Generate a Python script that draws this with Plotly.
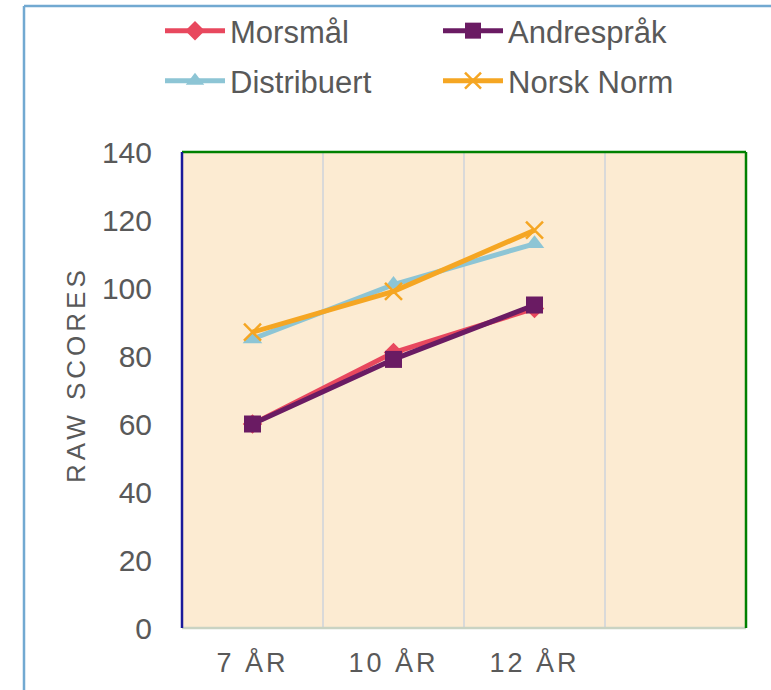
import plotly.graph_objects as go

categories = ["7 ÅR", "10 ÅR", "12 ÅR"]
all_categories = ["7 ÅR", "10 ÅR", "12 ÅR", " "]
morsmal = [60, 81, 94]
andresprak = [60, 79, 95]
distribuert = [85, 101, 113]
norsk_norm = [87, 99, 117]
y_ticks = [0, 20, 40, 60, 80, 100, 120, 140]

W, H = 771, 690
L, R, T, B = 182, 25, 152, 62
pw, ph = W - L - R, H - T - B

def px_x(p):
    return (p - L) / pw

def px_y(p):
    return (H - B - p) / ph

font_family = "Liberation Sans, Arial, sans-serif"
txt = "#595959"

fig = go.Figure()
series = [
    ("Morsmål", morsmal, "#E8485E", "diamond", 15, "legend"),
    ("Andrespråk", andresprak, "#6A1B63", "square", 17, "legend"),
    ("Distribuert", distribuert, "#8DC5D5", "triangle-up", 17, "legend2"),
    ("Norsk Norm", norsk_norm, "#F5A623", "x-thin", 17, "legend2"),
]
for name, vals, col, sym, size, leg in series:
    fig.add_trace(go.Scatter(
        x=categories, y=vals, name=name, mode="lines+markers",
        line=dict(color=col, width=5),
        marker=dict(symbol=sym, size=size, color=col,
                    line=dict(color=col, width=2.5 if sym == "x-thin" else 0)),
        legend=leg,
    ))

shapes = []
for gx in [0.5, 1.5, 2.5]:
    shapes.append(dict(type="line", xref="x", yref="paper", x0=gx, x1=gx, y0=0, y1=1,
                       line=dict(color="#D9D9D9", width=2), layer="below"))
shapes += [
    dict(type="line", xref="paper", yref="paper", x0=0, x1=1, y0=0, y1=0,
         line=dict(color="#C9D3C3", width=2.5)),
    dict(type="line", xref="paper", yref="paper", x0=0, x1=1, y0=1, y1=1,
         line=dict(color="#008000", width=2.5)),
    dict(type="line", xref="paper", yref="paper", x0=1, x1=1, y0=0, y1=1,
         line=dict(color="#008000", width=2.5)),
    dict(type="line", xref="paper", yref="paper", x0=0, x1=0, y0=0, y1=1,
         line=dict(color="#1A1A9A", width=2.5)),
    dict(type="line", xref="paper", yref="paper", x0=px_x(24), x1=px_x(24),
         y0=px_y(6), y1=px_y(700), line=dict(color="#72A9D1", width=2.5)),
    dict(type="line", xref="paper", yref="paper", x0=px_x(24), x1=px_x(780),
         y0=px_y(6), y1=px_y(6), line=dict(color="#72A9D1", width=2.5)),
]

leg_common = dict(orientation="h", xanchor="left", yanchor="middle",
                  font=dict(family=font_family, size=31, color=txt),
                  bgcolor="rgba(0,0,0,0)", entrywidthmode="pixels", entrywidth=203,
                  itemwidth=60)

tick_text = ['<span style="letter-spacing:3px">%s</span>' % c for c in categories]

fig.update_layout(
    width=W, height=H,
    margin=dict(l=L, r=R, t=T, b=B, autoexpand=False),
    paper_bgcolor="white", plot_bgcolor="#FCEBD2",
    font=dict(family=font_family, color=txt),
    showlegend=True,
    legend=dict(x=px_x(160), y=px_y(31), **leg_common),
    legend2=dict(x=px_x(160), y=px_y(81), **leg_common),
    xaxis=dict(type="category", categoryarray=all_categories, range=[-0.5, 3.5],
               tickvals=categories, ticktext=tick_text,
               showgrid=False, zeroline=False, showline=False,
               ticks="outside", ticklen=11, tickcolor="rgba(0,0,0,0)",
               tickfont=dict(size=27, color=txt)),
    yaxis=dict(range=[0, 140], tickvals=y_ticks, showgrid=False, zeroline=False,
               showline=False, ticks="outside", ticklen=23, tickcolor="rgba(0,0,0,0)",
               tickfont=dict(size=30, color=txt)),
    shapes=shapes,
    annotations=[dict(text='<span style="letter-spacing:4px">RAW SCORES</span>',
                      xref="paper", yref="paper",
                      x=px_x(76), y=px_y(375), showarrow=False, textangle=-90,
                      font=dict(size=26, color=txt), xanchor="center", yanchor="middle")],
)

fig.write_html("out.html", config={"displayModeBar": False},
               post_script="document.body.style.margin='0';")
